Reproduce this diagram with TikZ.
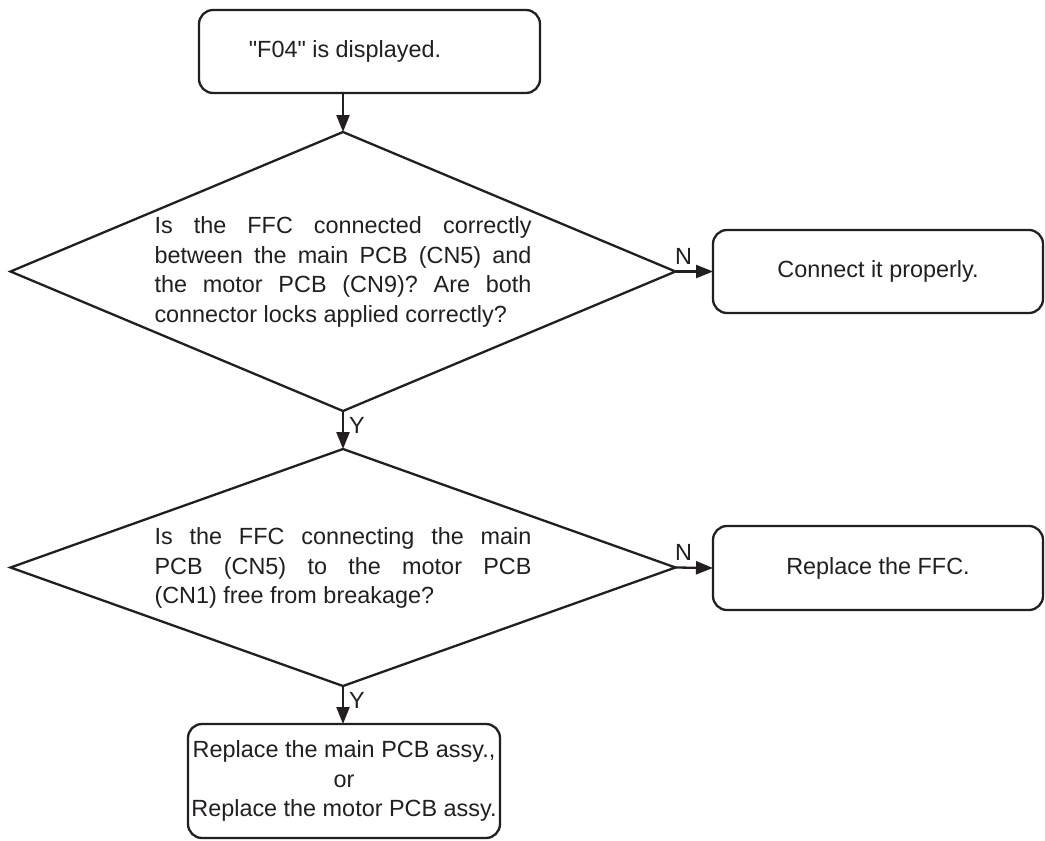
\documentclass[tikz,border=0pt]{standalone}
\usepackage{fontspec}
\setmainfont{Liberation Sans}[Ligatures=TeXOff]
\usetikzlibrary{shapes.geometric,arrows.meta}
\definecolor{ink}{RGB}{35,31,32}
\newcommand{\ff}{\fontsize{23.4}{29.5}\selectfont\frenchspacing}
\newcommand{\jline}[1]{\makebox[377pt][s]{#1}}
\newcommand{\lline}[1]{\makebox[377pt][l]{#1}}
\begin{document}
\begin{tikzpicture}[x=1pt,y=-1pt,
  box/.style={draw=ink, line width=2.3pt, rounded corners=14pt, inner sep=0pt, outer sep=0pt, text=ink, font=\ff, align=center},
  dia/.style={draw=ink, shape=diamond, line width=2.3pt, inner sep=0pt, outer sep=0pt},
  qtext/.style={text=ink, font=\ff, align=left, inner sep=0pt},
  arr/.style={draw=ink, line width=2.3pt, -{Triangle[length=17pt,width=13pt]}},
  lbl/.style={text=ink, font=\ff, inner sep=0pt}]
\useasboundingbox (0,0) rectangle (1045,841);
\fill[white] (0,0) rectangle (1045,841);

\node[box, minimum width=341pt, minimum height=83pt] (start) at (369.5,51.5) {};
\node[qtext] (starttext) at (345,51.5) {"F04" is displayed.};

\node[dia, minimum width=665pt, minimum height=279pt] (d1) at (343,271.5) {};
\node[qtext] (t1) at (343,272) {\jline{Is the FFC connected correctly}\\\jline{between the main PCB (CN5) and}\\\jline{the motor PCB (CN9)? Are both}\\\lline{connector locks applied correctly?}};

\node[box, minimum width=330pt, minimum height=83pt] (fix1) at (878,271.5) {Connect it properly.};

\node[dia, minimum width=665pt, minimum height=237pt] (d2) at (343,567.5) {};
\node[qtext] (t2) at (343,568) {\jline{Is the FFC connecting the main}\\\jline{PCB (CN5) to the motor PCB}\\\lline{(CN1) free from breakage?}};

\node[box, minimum width=330pt, minimum height=84pt] (fix2) at (878,568) {Replace the FFC.};

\node[box, minimum width=312pt, minimum height=114pt] (end) at (344,781) {Replace the main PCB assy.,\\or\\Replace the motor PCB assy.};

\draw[arr] (d1.north |- start.south) -- (d1.north);
\draw[arr] (d1.east) -- (fix1.west);
\draw[arr] (d1.south) -- (d2.north);
\draw[arr] (d2.east) -- (fix2.west);
\draw[arr] (d2.south) -- (end.north -| d2.south);

\node[lbl] (n1) at ([xshift=8pt,yshift=15pt]d1.east) {N};
\node[lbl] (n2) at ([xshift=8pt,yshift=15pt]d2.east) {N};
\node[lbl] (y1) at ([xshift=14pt,yshift=-14pt]d1.south) {Y};
\node[lbl] (y2) at ([xshift=14pt,yshift=-14pt]d2.south) {Y};
\end{tikzpicture}
\end{document}
